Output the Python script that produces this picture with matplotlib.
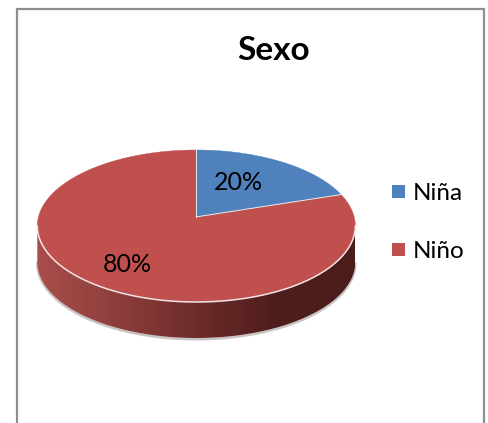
import numpy as np
import matplotlib
matplotlib.use("Agg")
import matplotlib.pyplot as plt
from matplotlib.colors import LinearSegmentedColormap
from matplotlib.patches import Polygon, Rectangle

title = "Sexo"
categories = ["Niña", "Niño"]
values = [20, 80]
labels = ["20%", "80%"]
colors = ["#4F81BD", "#C0504D"]

plt.rcParams["font.family"] = ["Lato", "DejaVu Sans"]
W, H = 489, 423
fig = plt.figure(figsize=(W / 100, H / 100), dpi=100, facecolor="white")
ax = fig.add_axes([0, 0, 1, 1])
ax.set_xlim(0, W)
ax.set_ylim(H, 0)
ax.axis("off")

# chart frame (open at the bottom of the crop)
ax.plot([17, 17, 484, 484], [H, 9, 9, H], color="#8E8E8E", lw=1.6,
        solid_joinstyle="miter", zorder=1)

cx, cy, rx, ry, depth = 196.3, 226, 159, 76, 36
persp = 0.12   # tilt: the pie centre projects above the ellipse centre


def project(theta):
    """Clockwise angle from 12 o'clock on the disc -> picture coordinates."""
    x, y = np.sin(theta), np.cos(theta)
    w = 1 + persp * y
    px = x * np.sqrt(1 - persp ** 2) / w
    py = (y + persp) / w
    return cx + rx * px, cy - ry * py


# soft shadow below the rim
low = np.linspace(np.pi / 2, 3 * np.pi / 2, 200)
lx, ly = cx + rx * np.sin(low), cy - ry * np.cos(low)
ax.plot(lx, ly + depth + 1.2, color="#C9C4C4", lw=1.8, zorder=2)

# side wall with horizontal gradient
side_xy = np.r_[np.c_[lx, ly + depth], np.c_[lx[::-1], ly[::-1]]]
side = Polygon(side_xy, closed=True, fc="none", ec="none", zorder=3)
ax.add_patch(side)
cmap = LinearSegmentedColormap.from_list(
    "side", [(0, "#A84E4B"), (0.2, "#93423F"), (0.5, "#6E2C2A"),
             (0.75, "#4E1E1C"), (1, "#4A1C1A")])
img = ax.imshow(np.linspace(0, 1, 256)[None, :], cmap=cmap, aspect="auto",
                extent=(cx - rx, cx + rx, cy + ry + depth + 2, cy - 20), zorder=3)
img.set_clip_path(side)
ax.set_xlim(0, W)
ax.set_ylim(H, 0)

# top disc, slices from the values
total = sum(values)
centre = (cx, cy - ry * persp)
start = 0.0
for val, col in zip(values, colors):
    sweep = 2 * np.pi * val / total
    th = np.linspace(start, start + sweep, max(int(val * 8), 30))
    px, py = project(th)
    ax.add_patch(Polygon(np.c_[np.r_[centre[0], px], np.r_[centre[1], py]],
                         closed=True, fc=col, ec=col, lw=0.3, zorder=4))
    start += sweep

# white seams
for ang in (0.0, 2 * np.pi * values[0] / total):
    px, py = project(ang)
    ax.plot([centre[0], px], [centre[1], py], color="#E4ECF4", lw=0.7, zorder=5)
ax.plot(lx, ly, color="#F2E4E4", lw=1.1, zorder=5)

# texts
ax.text(273.5, 51, title, fontsize=24, fontweight="bold", ha="center",
        va="center", color="black", zorder=6)
ax.text(238, 183, labels[0], fontsize=18, ha="center", va="center", zorder=6)
ax.text(127.5, 265, labels[1], fontsize=18, ha="center", va="center", zorder=6)

# legend
for yc, name, col in zip((192, 250), categories, colors):
    ax.add_patch(Rectangle((392, yc - 6.5), 13, 13, fc=col, ec="none", zorder=6))
    ax.text(412.5, yc + 1, name, fontsize=17.5, ha="left", va="center", zorder=6)

fig.savefig("out.png", dpi=100, facecolor="white")
